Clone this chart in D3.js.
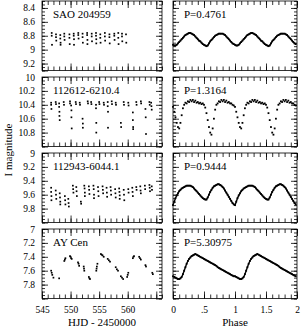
<!DOCTYPE html>
<html>
<head>
<meta charset="utf-8">
<script src="https://cdn.jsdelivr.net/npm/d3@7.9.0/dist/d3.min.js"></script>
<style>
  body { margin: 0; background: #fff; }
  svg { display: block; }
  .domain { display: none; }
  .tick line { stroke: #000; stroke-width: 0.8; }
  .tick text { fill: #000; }
</style>
</head>
<body>
<div id="chart"></div>
<script>
// star names and periods shown in the panels
const stars = ['SAO 204959', '112612-6210.4', '112943-6044.1', 'AY Cen'];
const periods = ['P=0.4761', 'P=1.3164', 'P=0.9444', 'P=5.30975'];
const magRanges = [[8.3, 9.3], [10, 11], [9, 10], [7, 8]];
const magTickLabels = [
  [8.4, 8.6, 8.8, 9, 9.2],
  [10, 10.2, 10.4, 10.6, 10.8],
  [9, 9.2, 9.4, 9.6, 9.8],
  [7, 7.2, 7.4, 7.6, 7.8]
];
const hjdRange = [545, 566];
const hjdTickLabels = [545, 550, 555, 560];
const phaseTicks = [0, 0.5, 1, 1.5, 2];
const phaseTickLabels = ['0', '.5', '1', '1.5', '2'];

// light curves: [HJD - 2450000, I mag]
const saoLc = [
  [546.7, 8.76], [546.7, 8.80], [546.75, 8.93],
  [547.45, 8.78], [547.45, 8.82], [547.5, 8.87],
  [548.2, 8.79], [548.2, 8.84], [548.25, 8.90], [548.25, 8.93],
  [548.9, 8.77], [548.9, 8.81], [548.95, 8.86],
  [549.8, 8.78], [549.8, 8.83], [549.85, 8.92],
  [550.55, 8.77], [550.55, 8.80], [550.6, 8.85], [550.6, 8.93],
  [551.35, 8.76], [551.35, 8.79], [551.4, 8.84],
  [552.1, 8.77], [552.1, 8.82], [552.15, 8.90],
  [552.9, 8.76], [552.9, 8.79], [552.95, 8.86], [552.95, 8.92],
  [553.7, 8.77], [553.7, 8.81], [553.75, 8.88],
  [554.45, 8.76], [554.45, 8.80], [554.5, 8.85], [554.5, 8.91],
  [555.2, 8.78], [555.2, 8.83], [555.25, 8.90],
  [556.0, 8.76], [556.0, 8.81], [556.05, 8.87],
  [556.8, 8.78], [556.8, 8.82], [556.85, 8.91],
  [557.65, 8.77], [557.65, 8.80], [557.7, 8.86],
  [558.35, 8.76], [558.35, 8.83], [558.4, 8.92],
  [559.0, 8.77], [559.0, 8.81], [559.05, 8.88],
  [559.7, 8.78], [559.75, 8.90]
];
const lc112612 = [
  [546.6, 10.37], [546.6, 10.40], [546.65, 10.46],
  [547.4, 10.36], [547.45, 10.39],
  [548.0, 10.38], [548.0, 10.43], [548.05, 10.50], [548.05, 10.56], [548.1, 10.62],
  [548.8, 10.36], [548.85, 10.40],
  [549.9, 10.35], [549.9, 10.38],
  [550.1, 10.41], [550.15, 10.48], [550.15, 10.58], [550.2, 10.74],
  [550.9, 10.36], [550.95, 10.39],
  [551.6, 10.37], [551.65, 10.40],
  [552.1, 10.60], [552.15, 10.67], [552.15, 10.73],
  [553.0, 10.35], [553.05, 10.38],
  [553.6, 10.36], [553.65, 10.39],
  [554.45, 10.40], [554.45, 10.45], [554.5, 10.66], [554.5, 10.80],
  [555.0, 10.36], [555.05, 10.39],
  [555.8, 10.37], [555.85, 10.40],
  [556.5, 10.36], [556.5, 10.42], [556.55, 10.50], [556.55, 10.73],
  [557.2, 10.35], [557.25, 10.39],
  [557.9, 10.37], [557.95, 10.40],
  [558.8, 10.66], [558.85, 10.72],
  [559.3, 10.36], [559.35, 10.40],
  [560.1, 10.37], [560.15, 10.41],
  [560.9, 10.51], [560.9, 10.62], [560.95, 10.72], [560.95, 10.75],
  [561.5, 10.36], [561.55, 10.40],
  [562.3, 10.35], [562.35, 10.38],
  [563.1, 10.46], [563.15, 10.58], [563.2, 10.82],
  [563.8, 10.36], [563.85, 10.40],
  [564.1, 10.37], [564.15, 10.42], [564.2, 10.47]
];
const lc112943 = [
  [546.6, 9.50], [546.6, 9.56], [546.65, 9.62], [546.65, 9.68],
  [547.4, 9.54], [547.45, 9.60], [547.5, 9.66],
  [548.1, 9.58], [548.15, 9.64], [548.2, 9.70], [548.2, 9.74],
  [549.0, 9.62], [549.05, 9.68], [549.1, 9.74],
  [549.6, 9.66], [549.65, 9.72], [549.7, 9.77],
  [550.4, 9.47], [550.45, 9.52], [550.5, 9.57],
  [551.0, 9.49], [551.05, 9.55], [551.1, 9.62],
  [551.8, 9.70], [551.85, 9.73],
  [552.4, 9.47], [552.45, 9.51], [552.5, 9.57], [552.5, 9.62],
  [553.2, 9.48], [553.25, 9.53], [553.3, 9.59],
  [554.0, 9.47], [554.05, 9.52], [554.1, 9.60], [554.1, 9.65],
  [554.8, 9.49], [554.85, 9.55], [554.9, 9.62],
  [555.6, 9.48], [555.65, 9.53], [555.7, 9.58],
  [556.3, 9.50], [556.35, 9.57], [556.4, 9.63],
  [557.0, 9.49], [557.05, 9.54], [557.1, 9.60],
  [557.8, 9.52], [557.85, 9.58], [557.9, 9.64],
  [558.5, 9.51], [558.55, 9.56], [558.6, 9.61], [558.6, 9.66],
  [559.3, 9.53], [559.35, 9.60], [559.4, 9.68],
  [560.1, 9.52], [560.15, 9.57],
  [560.8, 9.50], [560.85, 9.56], [560.9, 9.62],
  [561.5, 9.49], [561.55, 9.53],
  [562.2, 9.48], [562.25, 9.54], [562.3, 9.58],
  [563.0, 9.47], [563.05, 9.52],
  [563.8, 9.46], [563.85, 9.50], [563.9, 9.55],
  [564.2, 9.48], [564.25, 9.53]
];
const ayCenLc = [
  [546.6, 7.60], [546.7, 7.63], [546.8, 7.66], [547.0, 7.70],
  [548.0, 7.71],
  [548.9, 7.46], [549.0, 7.44], [549.1, 7.42],
  [549.9, 7.39], [550.0, 7.40], [550.1, 7.42], [550.2, 7.43],
  [551.3, 7.48], [551.4, 7.50], [551.5, 7.53],
  [552.3, 7.54], [552.35, 7.57], [552.4, 7.60],
  [553.2, 7.69], [553.3, 7.71], [553.4, 7.72],
  [554.5, 7.60], [554.55, 7.57], [554.6, 7.54], [554.7, 7.50],
  [555.3, 7.36], [555.45, 7.37], [555.6, 7.38], [555.8, 7.40],
  [556.5, 7.43], [556.7, 7.45], [556.9, 7.47],
  [557.9, 7.55], [558.1, 7.58], [558.3, 7.60],
  [558.8, 7.68], [559.0, 7.70], [559.2, 7.72],
  [559.9, 7.69], [560.0, 7.66], [560.1, 7.63],
  [560.9, 7.42], [561.0, 7.40], [561.1, 7.39],
  [562.0, 7.40], [562.15, 7.42], [562.3, 7.44],
  [563.1, 7.52], [563.2, 7.54],
  [564.3, 7.63], [564.4, 7.65]
];

// phased curves: magnitudes at these phases (each plotted twice, 0-1 and 1-2)
const phaseGrid = [
  0.00, 0.02, 0.04, 0.06, 0.08, 0.10, 0.12, 0.14, 0.16, 0.18,
  0.20, 0.22, 0.24, 0.26, 0.28, 0.30, 0.32, 0.34, 0.36, 0.38,
  0.40, 0.42, 0.44, 0.46, 0.48, 0.50, 0.52, 0.54, 0.56, 0.58,
  0.60, 0.62, 0.64, 0.66, 0.68, 0.70, 0.72, 0.74, 0.76, 0.78,
  0.80, 0.82, 0.84, 0.86, 0.88, 0.90, 0.92, 0.94, 0.96, 0.98
];
const saoPh = [
  8.93, 8.94, 8.94, 8.93, 8.91, 8.89, 8.87, 8.85, 8.83, 8.81,
  8.79, 8.78, 8.77, 8.76, 8.76, 8.77, 8.78, 8.79, 8.81, 8.83,
  8.85, 8.87, 8.88, 8.90, 8.92, 8.93, 8.94, 8.95, 8.94, 8.91,
  8.88, 8.86, 8.84, 8.82, 8.80, 8.79, 8.78, 8.77, 8.77, 8.77,
  8.77, 8.78, 8.79, 8.81, 8.83, 8.85, 8.87, 8.89, 8.91, 8.92
];
const ph112612 = [
  10.43, 10.50, 10.58, 10.66, 10.72, 10.74, 10.66, 10.55, 10.45, 10.40,
  10.37, 10.38, 10.35, 10.36, 10.33, 10.35, 10.33, 10.36, 10.34, 10.37,
  10.36, 10.38, 10.37, 10.39, 10.38, 10.40, 10.44, 10.52, 10.62, 10.72,
  10.80, 10.83, 10.74, 10.60, 10.47, 10.40, 10.38, 10.35, 10.36, 10.33,
  10.35, 10.33, 10.36, 10.34, 10.37, 10.36, 10.38, 10.38, 10.40, 10.41
];
const ph112943 = [
  9.75, 9.70, 9.65, 9.61, 9.58, 9.55, 9.53, 9.51, 9.50, 9.49,
  9.48, 9.47, 9.47, 9.47, 9.47, 9.48, 9.49, 9.51, 9.53, 9.55,
  9.57, 9.59, 9.61, 9.63, 9.65, 9.66, 9.67, 9.67, 9.64, 9.60,
  9.56, 9.53, 9.50, 9.48, 9.47, 9.46, 9.45, 9.45, 9.46, 9.47,
  9.49, 9.51, 9.54, 9.57, 9.60, 9.63, 9.66, 9.69, 9.72, 9.74
];
const ayCenPh = [
  7.68, 7.69, 7.70, 7.71, 7.72, 7.72, 7.71, 7.69, 7.65, 7.60,
  7.55, 7.50, 7.46, 7.43, 7.41, 7.39, 7.38, 7.37, 7.36, 7.37,
  7.38, 7.39, 7.40, 7.41, 7.42, 7.43, 7.44, 7.45, 7.46, 7.47,
  7.48, 7.49, 7.50, 7.51, 7.52, 7.53, 7.55, 7.56, 7.57, 7.58,
  7.59, 7.60, 7.61, 7.62, 7.63, 7.64, 7.65, 7.66, 7.67, 7.68
];

const lightCurves = [saoLc, lc112612, lc112943, ayCenLc];
const phaseCurves = [saoPh, ph112612, ph112943, ayCenPh];
// smooth curves get a joining line, the eclipsing one stays as dots
const joinPhase = [true, false, true, true];

const width = 301, height = 329;
const leftX = [42, 162], rightX = [173, 297];
const top0 = 1, panelH = 69.5, rowStep = 76;
const serif = "'Liberation Serif', 'Times New Roman', serif";

const svg = d3.select('#chart').append('svg')
  .attr('width', width).attr('height', height)
  .style('font-family', serif);

const xHjd = d3.scaleLinear().domain(hjdRange).range(leftX);
const xPh = d3.scaleLinear().domain([0, 2]).range(rightX);

const hjdMinor = d3.range(hjdRange[0], hjdRange[1] + 1, 1);
const hjdMajor = [545, 550, 555, 560, 565];
const phMinor = d3.range(0, 21).map(d => d / 10);

function axes(g, x, y, xMajor, xMinor, yMajor, yMinor, xFmt, yFmt) {
  const [x0, x1] = x.range();
  const [y0, y1] = y.range();
  const blank = () => '';
  g.append('g').attr('transform', `translate(0,${y1})`)
    .call(d3.axisBottom(x).tickValues(xMinor).tickSize(-4).tickFormat(blank));
  g.append('g').attr('transform', `translate(0,${y0})`)
    .call(d3.axisTop(x).tickValues(xMinor).tickSize(-4).tickFormat(blank));
  g.append('g').attr('transform', `translate(${x0},0)`)
    .call(d3.axisLeft(y).tickValues(yMinor).tickSize(-3).tickFormat(blank));
  g.append('g').attr('transform', `translate(${x1},0)`)
    .call(d3.axisRight(y).tickValues(yMinor).tickSize(-3).tickFormat(blank));

  g.append('g').attr('transform', `translate(0,${y1})`)
    .call(d3.axisBottom(x).tickValues(xMajor).tickSize(-7).tickPadding(8).tickFormat(xFmt || blank));
  g.append('g').attr('transform', `translate(0,${y0})`)
    .call(d3.axisTop(x).tickValues(xMajor).tickSize(-7).tickFormat(blank));
  g.append('g').attr('transform', `translate(${x0},0)`)
    .call(d3.axisLeft(y).tickValues(yMajor).tickSize(-6).tickPadding(7).tickFormat(yFmt || blank));
  g.append('g').attr('transform', `translate(${x1},0)`)
    .call(d3.axisRight(y).tickValues(yMajor).tickSize(-6).tickFormat(blank));

  g.selectAll('g').attr('font-family', null).attr('font-size', null);
  g.selectAll('.tick text').style('font-family', serif).style('font-size', '9.5px');

  g.append('rect')
    .attr('x', x0).attr('y', y0)
    .attr('width', x1 - x0).attr('height', y1 - y0)
    .attr('fill', 'none').attr('stroke', '#000').attr('stroke-width', 0.8);
}

function dots(g, data, x, y, size) {
  g.selectAll(null).data(data).enter().append('rect')
    .attr('x', d => x(d[0]) - size / 2)
    .attr('y', d => y(d[1]) - size / 2)
    .attr('width', size).attr('height', size)
    .attr('fill', '#000');
}

function label(sel, x, y, text, anchor) {
  return sel.append('text')
    .attr('x', x).attr('y', y)
    .attr('text-anchor', anchor || 'start')
    .style('font-family', serif).style('font-size', '11px')
    .text(text);
}

stars.forEach((name, i) => {
  const top = top0 + i * rowStep;
  const y = d3.scaleLinear().domain(magRanges[i]).range([top, top + panelH]);
  const [m0, m1] = magRanges[i];
  const yMinor = d3.range(0, Math.round((m1 - m0) / 0.05) + 1).map(k => m0 + k * 0.05);
  const yMajor = magTickLabels[i].concat([m1]);
  const last = i === stars.length - 1;

  // left: light curve vs HJD
  const gl = svg.append('g');
  dots(gl, lightCurves[i], xHjd, y, 1.7);
  axes(gl, xHjd, y, hjdMajor, hjdMinor, yMajor, yMinor,
    last ? (d => hjdTickLabels.includes(d) ? String(d) : '') : null,
    d => magTickLabels[i].includes(d) ? String(d) : '');
  label(gl, leftX[0] + 11, top + 17, name);

  // right: phased curve, two cycles
  const phased = [];
  [0, 1].forEach(cycle => {
    phaseGrid.forEach((p, k) => phased.push([p + cycle, phaseCurves[i][k]]));
  });
  const gr = svg.append('g');
  if (joinPhase[i]) {
    gr.append('path')
      .datum(phased)
      .attr('d', d3.line().x(d => xPh(d[0])).y(d => y(d[1])))
      .attr('fill', 'none').attr('stroke', '#000').attr('stroke-width', 1.4);
  }
  dots(gr, phased, xPh, y, 1.8);
  axes(gr, xPh, y, phaseTicks, phMinor, yMajor, yMinor,
    last ? (d => phaseTickLabels[phaseTicks.indexOf(d)]) : null, null);
  label(gr, rightX[0] + 11, top + 17, periods[i]);
});

label(svg, 0, 0, 'I magnitude', 'middle')
  .attr('transform', 'translate(12,150) rotate(-90)');
label(svg, d3.mean(leftX), 326, 'HJD - 2450000', 'middle');
label(svg, d3.mean(rightX), 326, 'Phase', 'middle');
</script>
</body>
</html>
